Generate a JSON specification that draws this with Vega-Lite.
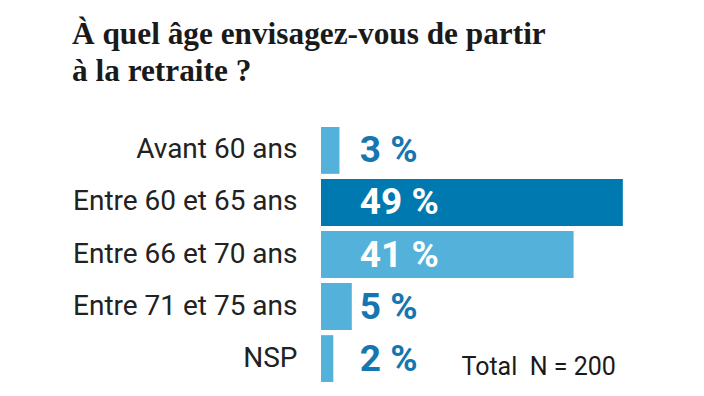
{
  "$schema": "https://vega.github.io/schema/vega-lite/v6.json",
  "autosize": "none",
  "padding": {"left": 321, "top": 127, "right": 75, "bottom": 14},
  "width": 308,
  "height": 255,
  "background": "white",
  "config": {"view": {"stroke": null}},
  "title": {
    "text": ["À quel âge envisagez-vous de partir", "à la retraite ?"],
    "anchor": "start",
    "frame": "group",
    "dx": -249,
    "offset": 40,
    "font": "Liberation Serif",
    "fontWeight": "bold",
    "fontSize": 31.3,
    "lineHeight": 37,
    "color": "#1a1a1a"
  },
  "data": {
    "values": [
      {"cat": "Avant 60 ans", "value": 3, "label": "3 %"},
      {"cat": "Entre 60 et 65 ans", "value": 49, "label": "49 %"},
      {"cat": "Entre 66 et 70 ans", "value": 41, "label": "41 %"},
      {"cat": "Entre 71 et 75 ans", "value": 5, "label": "5 %"},
      {"cat": "NSP", "value": 2, "label": "2 %"}
    ]
  },
  "encoding": {
    "y": {
      "field": "cat",
      "type": "nominal",
      "sort": null,
      "scale": {"paddingInner": 0.1, "paddingOuter": 0},
      "axis": {
        "title": null,
        "domain": false,
        "ticks": false,
        "labelPadding": 24,
        "labelFont": "Roboto",
        "labelFontSize": 28,
        "labelColor": "#222222",
        "labelLimit": 400
      }
    }
  },
  "layer": [
    {
      "mark": {"type": "bar"},
      "encoding": {
        "x": {"field": "value", "type": "quantitative", "scale": {"domain": [0, 50], "nice": false}, "axis": null},
        "color": {"condition": {"test": "datum.value == 49", "value": "#0079B0"}, "value": "#53B1DA"}
      }
    },
    {
      "mark": {"type": "text", "align": "left", "baseline": "middle", "font": "Roboto", "fontWeight": "bold", "fontSize": 37, "dy": 1},
      "encoding": {
        "x": {"datum": 6.3, "type": "quantitative"},
        "text": {"field": "label", "type": "nominal"},
        "color": {"condition": {"test": "datum.value > 10", "value": "#ffffff"}, "value": "#1676AF"}
      }
    },
    {
      "data": {"values": [{"cat": "NSP", "note": "Total\u00a0 N = 200"}]},
      "mark": {"type": "text", "align": "left", "baseline": "middle", "font": "Roboto", "fontWeight": "normal", "fontSize": 25, "color": "#1a1a1a", "dy": 8},
      "encoding": {
        "x": {"datum": 22.8, "type": "quantitative"},
        "y": {"field": "cat", "type": "nominal", "sort": null},
        "text": {"field": "note", "type": "nominal"}
      }
    }
  ]
}
